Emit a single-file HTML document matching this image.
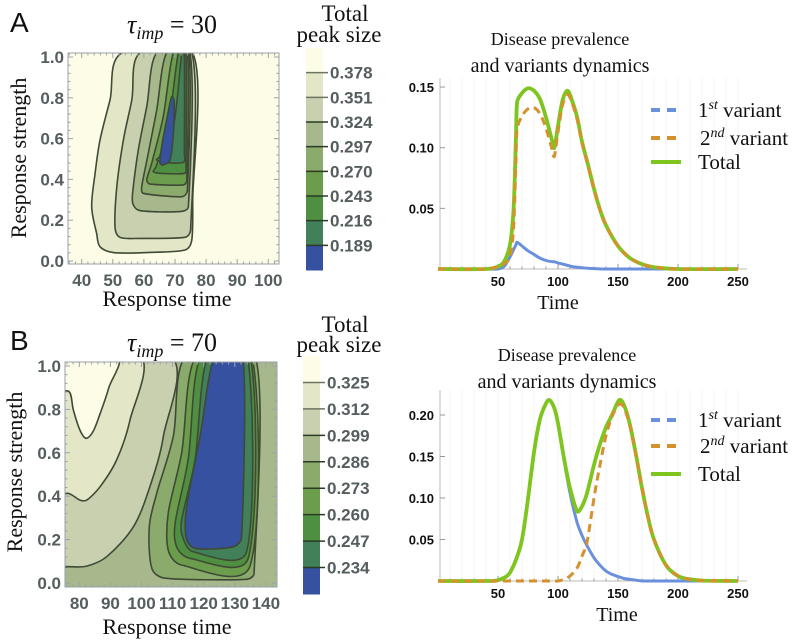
<!DOCTYPE html>
<html><head><meta charset="utf-8"><style>
html,body{margin:0;padding:0;background:#fff;}
svg{display:block;}
.serif{font-family:"Liberation Serif",serif;}
.sans{font-family:"Liberation Sans",sans-serif;}
.tick{font-family:"Liberation Sans",sans-serif;font-weight:bold;fill:#555d5f;font-size:17px;}
.rtick{font-family:"Liberation Sans",sans-serif;font-weight:bold;fill:#111;font-size:13px;}
</style></head><body>
<svg id="fig" width="810" height="640" viewBox="0 0 810 640" xmlns="http://www.w3.org/2000/svg">
<defs>
<clipPath id="clipA"><rect x="68" y="53" width="211" height="211"/></clipPath>
<clipPath id="clipB"><rect x="65" y="362" width="212" height="225"/></clipPath>
</defs>
<g id="root"></g>
</svg>
<script>
// ---------- data ----------
const levelsA=["0.378","0.351","0.324","0.297","0.270","0.243","0.216","0.189"];
const levelsB=["0.325","0.312","0.299","0.286","0.273","0.260","0.247","0.234"];
const bandColors=["#fdfce6","#e4e6c8","#c9d0b0","#a8b88d","#8bab6c","#6c9d4c","#4f8f42","#42805a","#3551a0"];
const xTicksA=[40,50,60,70,80,90,100];
const xTicksB=[80,90,100,110,120,130,140];
const yTicksL=[0,0.2,0.4,0.6,0.8,1.0];
// contour regions (data units: response time, response strength)
const contA1=[[52.9,1.02],[49.1,0.789],[45.9,0.593],[44.3,0.43],[43.2,0.266],[44.8,0.136],[45.9,0.07],[50.2,0.041],[62.0,0.042],[73.2,0.054],[75.4,0.103],[75.7,0.299],[75.7,1.02]];
const contA2=[[58.7,1.02],[56.1,0.789],[53.4,0.593],[51.3,0.364],[50.7,0.168],[52.3,0.116],[58.7,0.111],[73.2,0.116],[75.0,0.152],[75.4,1.02]];
const contA3=[[64.1,1.02],[60.9,0.756],[58.2,0.544],[56.6,0.364],[56.4,0.283],[58.7,0.247],[71.6,0.242],[74.3,0.266],[74.8,1.02]];
const contA4=[[67.3,1.02],[64.1,0.74],[61.4,0.528],[59.3,0.364],[59.8,0.332],[72.2,0.315],[74.0,0.348],[74.4,1.02]];
const contA5=[[69.5,1.02],[66.2,0.707],[62.5,0.479],[60.9,0.397],[62.0,0.377],[72.7,0.373],[73.8,0.397],[74.0,1.02]];
const contA6=[[71.1,1.02],[67.8,0.658],[63.9,0.462],[63.0,0.438],[65.2,0.43],[73.2,0.43],[73.5,0.462],[73.5,1.02]];
const contA7=[[72.2,1.02],[69.5,0.658],[65.2,0.511],[64.1,0.495],[67.3,0.482],[72.7,0.484],[73.0,0.528],[73.0,1.02]];
const contA8=[[68.9,0.805],[67.3,0.691],[65.7,0.56],[65.2,0.479],[66.2,0.471],[68.4,0.495],[69.5,0.626],[69.7,0.789]];
const contB1=[[72,1.05],[72,0.882],[76.7,0.882],[78.1,0.797],[80.2,0.705],[82.2,0.667],[84.5,0.7],[86.7,0.78],[89.5,0.9],[92.0,1.05]];
const contB2=[[72,1.05],[72,0.413],[76.5,0.413],[80.2,0.382],[82.4,0.382],[86.7,0.444],[92.0,0.567],[96.3,0.751],[99.5,1.05]];
const contB3=[[72,1.05],[72,0.075],[76.5,0.075],[82.4,0.078],[88.8,0.121],[97.4,0.259],[102.7,0.444],[107.0,0.674],[109.2,1.05]];
const contB4=[[114.5,1.05],[110.2,0.674],[104.9,0.413],[102.5,0.259],[103.3,0.068],[107.6,0.022],[133.8,0.017],[136.2,0.045],[136.5,1.05]];
const contB5=[[117.7,1.05],[112.9,0.598],[108.6,0.321],[108.6,0.152],[112.9,0.083],[134.9,0.078],[135.4,1.05]];
const contB6=[[119.3,1.05],[115.0,0.567],[110.8,0.275],[111.3,0.167],[115.6,0.114],[134.3,0.114],[134.9,1.05]];
const contB7=[[121.5,1.05],[117.2,0.567],[112.9,0.29],[113.2,0.213],[116.7,0.144],[133.8,0.144],[134.0,1.05]];
const contB8=[[123.7,1.05],[118.8,0.674],[114.5,0.352],[114.3,0.213],[117.2,0.16],[129.5,0.167],[132.2,0.213],[132.5,1.05]];
// line chart A
const timeA=[0,40,50,55,60,63,65,66,70,75,80,85,90,95,97,100,104,108,112,116,120,125,130,135,140,150,160,170,180,200,250];
const totalA=[0,0,0.002,0.006,0.02,0.05,0.11,0.138,0.145,0.149,0.147,0.14,0.125,0.106,0.1,0.118,0.14,0.147,0.138,0.125,0.105,0.086,0.066,0.049,0.036,0.019,0.009,0.004,0.0015,0,0];
const var1A=[0,0,0,0.002,0.01,0.016,0.02,0.022,0.019,0.015,0.012,0.009,0.007,0.006,0.006,0.005,0.004,0.003,0.002,0.0015,0.001,0.0006,0.0003,0.0001,0,0,0,0,0,0,0];
const var2A=[0,0,0.002,0.004,0.01,0.034,0.09,0.116,0.126,0.132,0.133,0.128,0.116,0.099,0.093,0.113,0.136,0.144,0.136,0.123,0.104,0.085,0.066,0.049,0.036,0.019,0.009,0.004,0.0015,0,0];
const yTicksA=[0.05,0.10,0.15];
// line chart B
const timeB=[0,40,50,60,70,80,85,90,93,97,100,105,110,116,120,124,130,135,140,145,151,155,160,165,170,175,180,190,200,210,220,250];
const totalB=[0,0,0.001,0.01,0.05,0.155,0.195,0.214,0.218,0.208,0.19,0.148,0.112,0.084,0.09,0.105,0.14,0.165,0.185,0.2,0.218,0.212,0.188,0.152,0.112,0.077,0.05,0.019,0.006,0.002,0.0005,0];
const var1B=[0,0,0.001,0.01,0.05,0.155,0.195,0.214,0.218,0.208,0.19,0.146,0.106,0.07,0.055,0.043,0.028,0.019,0.012,0.008,0.005,0.003,0.002,0.001,0,0,0,0,0,0,0,0];
const var2B=[0,0,0,0,0,0,0,0,0,0,0,0.002,0.006,0.016,0.03,0.045,0.1,0.14,0.175,0.198,0.213,0.209,0.186,0.151,0.112,0.077,0.05,0.019,0.006,0.002,0.0005,0];
const yTicksB=[0.05,0.10,0.15,0.20];
const xTicksR=[50,100,150,200,250];

// ---------- helpers ----------
const NS="http://www.w3.org/2000/svg";
const root=document.getElementById('root');
function mk(tag,attrs,parent){const e=document.createElementNS(NS,tag);for(const k in attrs)e.setAttribute(k,attrs[k]);(parent||root).appendChild(e);return e;}
function txt(s,x,y,cls,anchor,parent,extra){const e=mk('text',Object.assign({x:x,y:y,'class':cls,'text-anchor':anchor||'start'},extra||{}),parent);e.textContent=s;return e;}
function clampV(v,maxL){const l=Math.hypot(v[0],v[1]);if(l>maxL&&l>0){return [v[0]*maxL/l,v[1]*maxL/l];}return v;}
function crPath(pts,closed){
  const n=pts.length;let d='M'+pts[0][0].toFixed(1)+','+pts[0][1].toFixed(1);
  const get=i=>closed?pts[(i+n)%n]:pts[Math.max(0,Math.min(n-1,i))];
  const last=closed?n:n-1;
  for(let i=0;i<last;i++){const p0=get(i-1),p1=get(i),p2=get(i+1),p3=get(i+2);
    const L=Math.hypot(p2[0]-p1[0],p2[1]-p1[1]);
    const t1=clampV([(p2[0]-p0[0])/6,(p2[1]-p0[1])/6],0.35*L);
    const t2=clampV([(p3[0]-p1[0])/6,(p3[1]-p1[1])/6],0.35*L);
    const c1=[p1[0]+t1[0],p1[1]+t1[1]],c2=[p2[0]-t2[0],p2[1]-t2[1]];
    d+='C'+c1[0].toFixed(1)+','+c1[1].toFixed(1)+' '+c2[0].toFixed(1)+','+c2[1].toFixed(1)+' '+p2[0].toFixed(1)+','+p2[1].toFixed(1);}
  return d+(closed?'Z':'');}

// ---------- contour panels ----------
function contourPanel(o){
  const g=mk('g',{});
  
  
  const xs=v=>o.x0+(v-o.xt0)*o.kx, ys=v=>o.y0-v*o.ky;
  const bg=mk('rect',{x:o.fx,y:o.fy,width:o.fw,height:o.fh,fill:o.bg},g);
  
  
  const cg=mk('g',{'clip-path':'url(#'+o.clip+')'},g);
  o.regions.forEach((r,i)=>{
    const p=mk('path',{d:crPath(r.pts.map(q=>[xs(q[0]),ys(q[1])]),true),fill:r.fill,stroke:'#3f4a35','stroke-width':1.6,'stroke-linejoin':'round'},cg);
    
    
  });
  const fr=mk('rect',{x:o.fx,y:o.fy,width:o.fw,height:o.fh,fill:'none',stroke:'#9aa2a8','stroke-width':1},g);
  
  
  for(let v=o.xmin;v<=o.xmax;v+=2){const X=xs(v);if(X<o.fx||X>o.fx+o.fw)continue;const L=(v%10===0)?5:2.5;
    mk('line',{x1:X,x2:X,y1:o.fy+o.fh,y2:o.fy+o.fh-L,stroke:'#9aa2a8'},g);mk('line',{x1:X,x2:X,y1:o.fy,y2:o.fy+L,stroke:'#9aa2a8'},g);}
  for(let k=0;k<=25;k++){const v=k*0.04;const Y=ys(v);const L=(k%5===0)?5:2.5;
    mk('line',{x1:o.fx,x2:o.fx+L,y1:Y,y2:Y,stroke:'#9aa2a8'},g);mk('line',{x1:o.fx+o.fw,x2:o.fx+o.fw-L,y1:Y,y2:Y,stroke:'#9aa2a8'},g);}
  o.xticks.forEach(v=>{const t=txt(String(v),xs(v),o.fy+o.fh+22,'tick','middle',g);
    });
  yTicksL.forEach(v=>{const t=txt(v.toFixed(1),o.fx-4,ys(v)+6,'tick','end',g);
    });
  const cb=mk('g',{},g);
  
  
  const n=bandColors.length;const bh=(o.cbBot-o.cbTop)/n;
  bandColors.forEach((c,i)=>{const r=mk('rect',{x:o.cbx,y:o.cbTop+i*bh,width:17,height:bh+0.5,fill:c},cb);
    });
  o.levels.forEach((l,i)=>{const Y=o.cbTop+(i+1)*bh;
    mk('line',{x1:o.cbx,x2:o.cbx+22,y1:Y,y2:Y,stroke:i<2?'#6b7560':'#2b3a25','stroke-width':1.5},cb);
    const t=txt(l,o.cbx+24,Y+6,'tick','start',cb);});
  return g;
}
contourPanel({name:'contour-plot-a',clip:'clipA',x0:81.7,xt0:40,kx:3.11,y0:261,ky:204,fx:68,fy:53,fw:211,fh:211,xmin:34,xmax:104,bg:bandColors[0],
  regions:[{pts:contA1,fill:bandColors[1]},{pts:contA2,fill:bandColors[2]},{pts:contA3,fill:bandColors[3]},{pts:contA4,fill:bandColors[4]},{pts:contA5,fill:bandColors[5]},{pts:contA6,fill:bandColors[6]},{pts:contA7,fill:bandColors[7]},{pts:contA8,fill:bandColors[8]}],
  xticks:xTicksA,levels:levelsA,cbx:306,cbTop:48,cbBot:270});
contourPanel({name:'contour-plot-b',clip:'clipB',x0:79.3,xt0:80,kx:3.11,y0:583,ky:217,fx:65,fy:362,fw:212,fh:225,xmin:76,xmax:144,bg:bandColors[3],
  regions:[{pts:contB3,fill:bandColors[2]},{pts:contB2,fill:bandColors[1]},{pts:contB1,fill:bandColors[0]},{pts:contB4,fill:bandColors[4]},{pts:contB5,fill:bandColors[5]},{pts:contB6,fill:bandColors[6]},{pts:contB7,fill:bandColors[7]},{pts:contB8,fill:bandColors[8]}],
  xticks:xTicksB,levels:levelsB,cbx:303,cbTop:356,cbBot:594});

// ---------- line panels ----------
function linePanel(o){
  const g=mk('g',{});
  
  
  const xs=t=>438+t*1.2, ys=v=>o.y0-v*o.ky;
  for(let t=10;t<=250;t+=10){mk('line',{x1:xs(t),x2:xs(t),y1:o.top,y2:o.y0,stroke:'#f3f3f3','stroke-width':1},g);}
  const ax=mk('line',{x1:440,x2:747,y1:o.y0,y2:o.y0,stroke:'#bbb','stroke-width':1},g);
  
  const ay=mk('line',{x1:440,x2:440,y1:o.top,y2:o.y0,stroke:'#bbb','stroke-width':1},g);
  
  for(let t=10;t<=250;t+=10){mk('line',{x1:xs(t),x2:xs(t),y1:o.y0,y2:o.y0-(t%50===0?5:2.5),stroke:'#999'},g);}
  xTicksR.forEach(t=>{const e=txt(String(t),xs(t),o.y0+17,'rtick','middle',g);});
  o.yticks.forEach(v=>{mk('line',{x1:440,x2:445,y1:ys(v),y2:ys(v),stroke:'#999'},g);
    const e=txt(v.toFixed(2),434,ys(v)+5,'rtick','end',g);});
  const series=[{d:o.v1,c:'#6a8fdc',dash:'',name:'first-variant-line'},{d:o.v2,c:'#d4922e',dash:'8,5',name:'second-variant-line'},{d:o.tot,c:'#7fc51f',dash:'',name:'total-line'}];
  const order=[series[0],series[2],series[1]];
  order.forEach(s=>{const pts=o.t.map((t,i)=>[xs(t),ys(s.d[i])]);
    const p=mk('path',{d:crPath(pts,false),fill:'none',stroke:s.c,'stroke-width':s.name==='total-line'?3.8:3,'stroke-dasharray':s.dash,'stroke-linejoin':'round'},g);
    });
  const lg=mk('g',{},g);
  
  
  const items=[{c:'#6a8fdc',dash:'9,7',lab:'1',sup:'st'},{c:'#d4922e',dash:'9,7',lab:'2',sup:'nd'},{c:'#7fc51f',dash:'',lab:'Total',sup:''}];
  items.forEach((it,i)=>{const Y=o.legY[i];
    mk('line',{x1:651,x2:681,y1:Y,y2:Y,stroke:it.c,'stroke-width':4,'stroke-dasharray':it.dash},lg);
    const t=mk('text',{x:i===1?700:698,y:Y+7,'class':'serif','font-size':21,fill:'#111'},lg);
    
    if(it.sup){t.appendChild(document.createTextNode(it.lab));
      const s=document.createElementNS(NS,'tspan');s.setAttribute('dy','-8');s.setAttribute('font-size','14');s.setAttribute('font-style','italic');s.textContent=it.sup;t.appendChild(s);
      const s2=document.createElementNS(NS,'tspan');s2.setAttribute('dy','8');s2.textContent=' variant';t.appendChild(s2);}
    else t.textContent=it.lab;});
  const t1=txt('Disease prevalence',o.titleX,o.titleY,'serif','middle',g,{'font-size':18,fill:'#111'});
  
  const t2=txt('and variants dynamics',o.titleX,o.titleY+27,'serif','middle',g,{'font-size':20,fill:'#111'});
  
  const tl=txt('Time',o.timeX,o.y0+40,'serif','middle',g,{'font-size':20,fill:'#111'});
  
}
linePanel({name:'line-chart-a',t:timeA,tot:totalA,v1:var1A,v2:var2A,y0:269,ky:1213,top:78,yticks:yTicksA,legY:[110,138,162],titleX:560,titleY:45,timeX:558});
linePanel({name:'line-chart-b',t:timeB,tot:totalB,v1:var1B,v2:var2B,y0:581,ky:830,top:390,yticks:yTicksB,legY:[420,446,474],titleX:567,titleY:361,timeX:617});

// ---------- panel labels & titles ----------
function label(s,x,y,cls,size,anchor,name,extra){const e=txt(s,x,y,cls,anchor,root,Object.assign({'font-size':size,fill:'#111'},extra||{}));
  return e;}
label('A',10,32,'sans',28,'start','panel-label-a');
label('B',10,350,'sans',28,'start','panel-label-b');
function tau(x,y,val,name){const t=mk('text',{x:x,y:y,'class':'serif','font-size':26,fill:'#111','text-anchor':'middle'});
  
  const a=document.createElementNS(NS,'tspan');a.setAttribute('font-style','italic');a.textContent='τ';t.appendChild(a);
  const b=document.createElementNS(NS,'tspan');b.setAttribute('font-style','italic');b.setAttribute('font-size','18');b.setAttribute('dy','6');b.textContent='imp';t.appendChild(b);
  const c=document.createElementNS(NS,'tspan');c.setAttribute('dy','-6');c.textContent=' = '+val;t.appendChild(c);}
tau(172,33,'30','title-a');
tau(172,351,'70','title-b');
label('Total',345,21,'serif',23,'middle','colorbar-title-a-line1');
label('peak size',339,42,'serif',23,'middle','colorbar-title-a-line2');
label('Total',345,332,'serif',23,'middle','colorbar-title-b-line1');
label('peak size',339,352,'serif',23,'middle','colorbar-title-b-line2');
label('Response time',167,306,'serif',22,'middle','x-axis-title-a');
label('Response time',167,634,'serif',22,'middle','x-axis-title-b');
label('Response strength',26,158,'serif',22,'middle','y-axis-title-a',{transform:'rotate(-90 26 158)'});
label('Response strength',22,472,'serif',22,'middle','y-axis-title-b',{transform:'rotate(-90 22 472)'});
</script>
</body></html>
